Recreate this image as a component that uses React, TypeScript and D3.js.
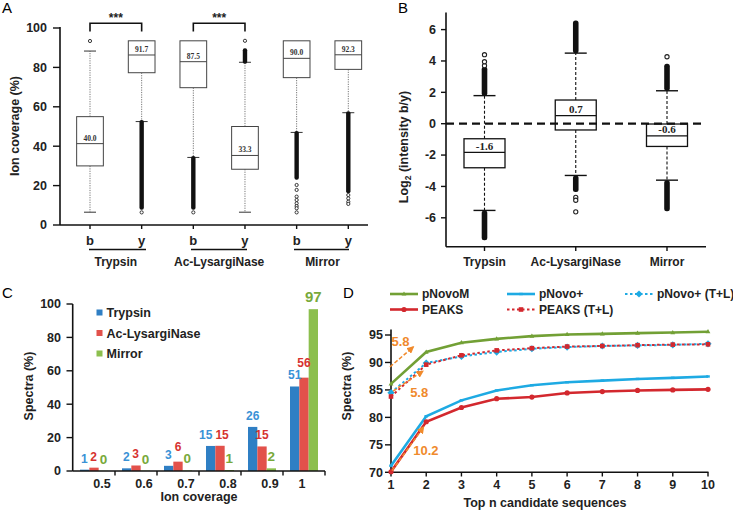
import React from 'react';
import * as d3 from 'd3';

// ---------- Panel A: ion coverage box plots ----------
const aIons = ['b', 'y', 'b', 'y', 'b', 'y'];
const aGroups = ['Trypsin', 'Ac-LysargiNase', 'Mirror'];
const aWhiskerLow = [6.5, 52.5, 34.3, 6.5, 47, 57];
const aQ1 = [30, 77.3, 69.7, 28.3, 74.8, 79];
const aMedian = [41.3, 86.3, 82.9, 35.3, 84.6, 86.4];
const aQ3 = [55, 93.5, 93.5, 50, 93.5, 93.5];
const aWhiskerHigh = [88.3, 93.5, 93.5, 82.6, 93.5, 93.5];
const aLabels = ['40.0', '91.7', '87.5', '33.3', '90.0', '92.3'];
const aBandLo = [NaN, 8.5, 8.5, 82.6, 23.7, 16.9];
const aBandHi = [NaN, 52.5, 34.3, 89, 47, 57];
const aOutliers = [[93.4], [6.4], [6.4], [93.5], [20.3, 17.8, 14.4, 12.7, 11, 9.6, 8.5, 6.4], [15.2, 13.5, 11.8, 10.7]];
const aTicks = [0, 20, 40, 60, 80, 100];

// ---------- Panel B: log2 intensity ratio ----------
const bGroups = ['Trypsin', 'Ac-LysargiNase', 'Mirror'];
const bWhiskerLow = [-5.53, -3.3, -3.6];
const bQ1 = [-2.81, -0.4, -1.45];
const bMedian = [-1.83, 0.51, -0.77];
const bQ3 = [-0.96, 1.51, -0.02];
const bWhiskerHigh = [1.79, 4.5, 2.1];
const bLabels = ['-1.6', '0.7', '-0.6'];
const bUpperBandLo = [1.79, 4.5, 2.1];
const bUpperBandHi = [3.5, 6.45, 3.7];
const bLowerBandHi = [-5.53, -3.3, -3.6];
const bLowerBandLo = [-7.3, -4.22, -5.45];
const bOutliers = [[3.7, 3.95, 4.4], [-4.7, -4.88, -5.62], [4.27]];
const bTicks = [-6, -4, -2, 0, 2, 4, 6];

// ---------- Panel C: spectra by ion coverage ----------
const cCoverage = ['0.5', '0.6', '0.7', '0.8', '0.9', '1'];
const cSeries = ['Trypsin', 'Ac-LysargiNase', 'Mirror'];
const cTrypsin = [0.8, 1.6, 3.1, 15.0, 26.4, 50.6];
const cLysargiNase = [2.0, 3.3, 5.6, 15.1, 14.7, 55.9];
const cMirror = [0.1, 0.2, 0.3, 0.6, 1.6, 96.9];
const cTicks = [0, 20, 40, 60, 80, 100];

// ---------- Panel D: top-n candidate sequences ----------
const dTopN = [1, 2, 3, 4, 5, 6, 7, 8, 9, 10];
const dPNovoM = [86.1, 91.9, 93.6, 94.3, 94.8, 95.1, 95.2, 95.35, 95.45, 95.6];
const dPNovoPlusTL = [84.5, 89.9, 91.1, 91.9, 92.5, 92.8, 93.0, 93.1, 93.2, 93.4];
const dPeaksTL = [83.8, 89.6, 91.3, 92.2, 92.6, 92.9, 93.0, 93.15, 93.25, 93.3];
const dPNovoPlus = [71.2, 80.2, 83.1, 84.9, 85.85, 86.4, 86.7, 87.0, 87.2, 87.45];
const dPeaks = [70.1, 79.2, 81.8, 83.4, 83.7, 84.45, 84.7, 84.9, 85.0, 85.1];
const dTicks = [70, 75, 80, 85, 90, 95];
const dArrowLabels = ['5.8', '5.8', '10.2'];
const dArrowFrom = [[0.97, 89.2], [1.06, 84.8], [1.03, 70.3]];
const dArrowTo = [[1.63, 92.8], [1.9, 88.4], [1.92, 78.2]];
const dArrowText = [[1.27, 93.9], [1.8, 84.5], [1.99, 73.9]];

const SANS = '"Liberation Sans", Arial, sans-serif';
const SERIF = '"Liberation Serif", "Times New Roman", serif';

const BLUE = '#2f7fc4';
const RED = '#e2514b';
const GREEN = '#8cbf4e';
const BLUE_T = '#3a92d6';
const RED_T = '#d63330';
const GREEN_T = '#78a93a';
const L_GREEN = '#72a035';
const L_CYAN = '#1eaae3';
const L_RED = '#d3282e';
const ORANGE = '#f08a2c';

function PanelA() {
  const y = d3.scaleLinear().domain([0, 100]).range([225, 28]);
  const x = d3.scalePoint<number>().domain(d3.range(aIons.length)).range([90, 348.3]);
  const bw = 26.7;
  const groupLines = [[89, 146], [191, 247], [294, 349]];
  return (
    <g>
      <text x={2} y={13} fontFamily={SANS} fontSize={15}>A</text>
      <line x1={60} x2={60} y1={27} y2={225} stroke="#111" strokeWidth={1.6} />
      <line x1={60} x2={368} y1={225} y2={225} stroke="#111" strokeWidth={1.6} />
      {aTicks.map((t) => (
        <g key={t}>
          <line x1={53} x2={60} y1={y(t)} y2={y(t)} stroke="#111" strokeWidth={1.4} />
          <text x={47} y={y(t)} dy="0.35em" textAnchor="end" fontFamily={SANS} fontWeight="bold" fontSize={12.5} fill="#222">{t}</text>
        </g>
      ))}
      <text transform={`translate(19,${126}) rotate(-90)`} textAnchor="middle" fontFamily={SANS} fontWeight="bold" fontSize={12.5} fill="#222">Ion coverage (%)</text>
      {aIons.map((ion, i) => (
        <g key={i}>
          <line x1={x(i)!} x2={x(i)!} y1={225} y2={229} stroke="#111" strokeWidth={1.4} />
          <text x={x(i)!} y={245} textAnchor="middle" fontFamily={SANS} fontWeight="bold" fontSize={13} fill="#222">{ion}</text>
        </g>
      ))}
      {aGroups.map((g, i) => (
        <g key={g}>
          <line x1={groupLines[i][0]} x2={groupLines[i][1]} y1={249.5} y2={249.5} stroke="#111" strokeWidth={1.3} />
          <text x={(x(2 * i)! + x(2 * i + 1)!) / 2} y={266} textAnchor="middle" fontFamily={SANS} fontWeight="bold" fontSize={12} fill="#222">{g}</text>
        </g>
      ))}
      {[0, 2].map((i) => (
        <g key={i}>
          <path d={`M${x(i)},${31.5}V${23.3}H${x(i + 1)}V${31.5}`} fill="none" stroke="#111" strokeWidth={1.6} />
          <text x={(x(i)! + x(i + 1)!) / 2} y={22} textAnchor="middle" fontFamily={SANS} fontWeight="bold" fontSize={12} fill="#222">***</text>
        </g>
      ))}
      {aIons.map((_, i) => {
        const cx = x(i)!;
        return (
          <g key={i}>
            {aWhiskerHigh[i] > aQ3[i] && (
              <>
                <line x1={cx} x2={cx} y1={y(aQ3[i])} y2={y(aWhiskerHigh[i])} stroke="#777" strokeWidth={1} strokeDasharray="1.2,1.2" />
                <line x1={cx - 6} x2={cx + 6} y1={y(aWhiskerHigh[i])} y2={y(aWhiskerHigh[i])} stroke="#333" strokeWidth={1} />
              </>
            )}
            <line x1={cx} x2={cx} y1={y(aQ1[i])} y2={y(aWhiskerLow[i])} stroke="#777" strokeWidth={1} strokeDasharray="1.2,1.2" />
            <line x1={cx - 6} x2={cx + 6} y1={y(aWhiskerLow[i])} y2={y(aWhiskerLow[i])} stroke="#333" strokeWidth={1} />
            <rect x={cx - bw / 2} y={y(aQ3[i])} width={bw} height={y(aQ1[i]) - y(aQ3[i])} fill="#fff" stroke="#444" strokeWidth={1} />
            <line x1={cx - bw / 2} x2={cx + bw / 2} y1={y(aMedian[i])} y2={y(aMedian[i])} stroke="#444" strokeWidth={1} />
            <text x={cx} y={y(aMedian[i]) - 3} textAnchor="middle" fontFamily={SERIF} fontWeight="bold" fontSize={7.5} fill="#333">{aLabels[i]}</text>
            {!isNaN(aBandLo[i]) && (
              <rect x={cx - 2.2} y={y(aBandHi[i]) - 1.5} width={4.4} height={y(aBandLo[i]) - y(aBandHi[i]) + 3} rx={2} fill="#111" />
            )}
            {aOutliers[i].map((v, j) => (
              <circle key={j} cx={cx} cy={y(v)} r={1.6} fill="#fff" stroke="#222" strokeWidth={0.9} />
            ))}
          </g>
        );
      })}
    </g>
  );
}

function PanelB() {
  const y = d3.scaleLinear().domain([0, 6]).range([123.7, 29.6]);
  const x = d3.scalePoint<number>().domain(d3.range(bGroups.length)).range([484.5, 667]);
  const bw = 41;
  return (
    <g>
      <text x={398} y={13} fontFamily={SANS} fontSize={15}>B</text>
      <line x1={446} x2={446} y1={12.5} y2={246.7} stroke="#111" strokeWidth={1.6} />
      <line x1={446} x2={706} y1={246.7} y2={246.7} stroke="#111" strokeWidth={1.6} />
      {bTicks.map((t) => (
        <g key={t}>
          <line x1={441} x2={446} y1={y(t)} y2={y(t)} stroke="#111" strokeWidth={1.4} />
          <text x={436} y={y(t)} dy="0.35em" textAnchor="end" fontFamily={SANS} fontWeight="bold" fontSize={12.5} fill="#222">{t}</text>
        </g>
      ))}
      <text transform={`translate(408,${147}) rotate(-90)`} textAnchor="middle" fontFamily={SANS} fontWeight="bold" fontSize={12.5} fill="#222">
        Log<tspan fontSize={8.5} dy={3}>2</tspan><tspan dy={-3}> (intensity b/y)</tspan>
      </text>
      {bGroups.map((g, i) => (
        <g key={g}>
          <line x1={x(i)!} x2={x(i)!} y1={246.7} y2={251} stroke="#111" strokeWidth={1.4} />
          <text x={x(i)!} y={266} textAnchor="middle" fontFamily={SANS} fontWeight="bold" fontSize={12} fill="#222">{g}</text>
        </g>
      ))}
      {bGroups.map((_, i) => {
        const cx = x(i)!;
        return (
          <g key={i}>
            <line x1={cx} x2={cx} y1={y(bQ3[i])} y2={y(bWhiskerHigh[i])} stroke="#111" strokeWidth={1.1} strokeDasharray="3,2" />
            <line x1={cx} x2={cx} y1={y(bQ1[i])} y2={y(bWhiskerLow[i])} stroke="#111" strokeWidth={1.1} strokeDasharray="3,2" />
            <line x1={cx - 11} x2={cx + 11} y1={y(bWhiskerHigh[i])} y2={y(bWhiskerHigh[i])} stroke="#111" strokeWidth={1.4} />
            <line x1={cx - 11} x2={cx + 11} y1={y(bWhiskerLow[i])} y2={y(bWhiskerLow[i])} stroke="#111" strokeWidth={1.4} />
            <rect x={cx - 2.8} y={y(bUpperBandHi[i]) - 2} width={5.6} height={y(bUpperBandLo[i]) - y(bUpperBandHi[i]) + 2} rx={2.5} fill="#111" />
            <rect x={cx - 2.8} y={y(bLowerBandHi[i])} width={5.6} height={y(bLowerBandLo[i]) - y(bLowerBandHi[i]) + 2} rx={2.5} fill="#111" />
            {bOutliers[i].map((v, j) => (
              <circle key={j} cx={cx} cy={y(v)} r={2.1} fill="#fff" stroke="#222" strokeWidth={1.1} />
            ))}
            <rect x={cx - bw / 2} y={y(bQ3[i])} width={bw} height={y(bQ1[i]) - y(bQ3[i])} fill="#fff" stroke="#111" strokeWidth={1.3} />
            <line x1={cx - bw / 2} x2={cx + bw / 2} y1={y(bMedian[i])} y2={y(bMedian[i])} stroke="#111" strokeWidth={1.3} />
            <text x={cx} y={y(bMedian[i]) - 2.5} textAnchor="middle" fontFamily={SERIF} fontWeight="bold" fontSize={11} fill="#222">{bLabels[i]}</text>
          </g>
        );
      })}
      <line x1={446} x2={702} y1={y(0)} y2={y(0)} stroke="#111" strokeWidth={2.2} strokeDasharray="8,5" />
    </g>
  );
}

function PanelC() {
  const y = d3.scaleLinear().domain([0, 100]).range([471, 304]);
  const x0 = d3.scaleBand().domain(cCoverage).range([73, 325]);
  const x1 = d3.scaleBand().domain(cSeries).range([7, x0.bandwidth() - 7]);
  const series = [cTrypsin, cLysargiNase, cMirror];
  const fills = [BLUE, RED, GREEN];
  const tcols = [BLUE_T, RED_T, GREEN_T];
  const tsize = [12, 12, 13.5];

  // value labels with simple collision avoidance
  const labels = cCoverage.map((c, gi) => {
    const items = series.map((s, si) => {
      const txt = String(Math.round(s[gi]));
      const fs = si === 2 && gi === 5 ? 15 : tsize[si];
      return {
        txt, fs, si,
        x: x0(c)! + x1(cSeries[si])! + x1.bandwidth() / 2,
        y: y(s[gi]) - 7,
        w: txt.length * 0.556 * fs,
      };
    });
    for (let k = 0; k < items.length - 1; k++) {
      const a = items[k], b = items[k + 1];
      const need = (a.w + b.w) / 2 + 3 - (b.x - a.x);
      if (need <= 0) continue;
      const dy = Math.abs(a.y - b.y);
      if (dy < 6) {
        a.x -= need * 0.7; b.x += need * 0.3;
      } else if (dy < 12) {
        const hi = a.y < b.y ? a : b;
        const lo = a.y < b.y ? b : a;
        hi.y = lo.y - 12.5;
      }
    }
    return items;
  });

  return (
    <g>
      <text x={2} y={298} fontFamily={SANS} fontSize={15}>C</text>
      {cCoverage.map((c, gi) => (
        <g key={c} transform={`translate(${x0(c)},0)`}>
          {series.map((s, si) => (
            <rect key={si} x={x1(cSeries[si])} y={y(s[gi])} width={x1.bandwidth()} height={471 - y(s[gi])} fill={fills[si]} />
          ))}
        </g>
      ))}
      {labels.flat().map((l, k) => (
        <text key={k} x={l.x} y={l.y} textAnchor="middle" fontFamily={SANS} fontWeight="bold" fontSize={l.fs} fill={tcols[l.si]}>{l.txt}</text>
      ))}
      <line x1={72.7} x2={72.7} y1={304} y2={471} stroke="#111" strokeWidth={1.6} />
      <line x1={72.7} x2={325} y1={471} y2={471} stroke="#111" strokeWidth={1.6} />
      {cTicks.map((t) => (
        <g key={t}>
          <line x1={66.5} x2={72.7} y1={y(t)} y2={y(t)} stroke="#111" strokeWidth={1.4} />
          <text x={61} y={y(t)} dy="0.35em" textAnchor="end" fontFamily={SANS} fontWeight="bold" fontSize={12.5} fill="#222">{t}</text>
        </g>
      ))}
      {cCoverage.map((c) => (
        <g key={c}>
          <line x1={x0(c)! + x0.bandwidth()} x2={x0(c)! + x0.bandwidth()} y1={471} y2={475.5} stroke="#111" strokeWidth={1.4} />
          <text x={x0(c)! + x0.bandwidth() / 2 + (c.length > 1 ? 8 : -2)} y={488} textAnchor="middle" fontFamily={SANS} fontWeight="bold" fontSize={12.5} fill="#222">{c}</text>
        </g>
      ))}
      <text x={199} y={501} textAnchor="middle" fontFamily={SANS} fontWeight="bold" fontSize={12.5} fill="#222">Ion coverage</text>
      <text transform={`translate(33,${386}) rotate(-90)`} textAnchor="middle" fontFamily={SANS} fontWeight="bold" fontSize={12.5} fill="#222">Spectra (%)</text>
      {cSeries.map((s, i) => (
        <g key={s} transform={`translate(96.5,${312.5 + i * 20.5})`}>
          <rect x={0} y={-3} width={6} height={6} fill={fills[i]} />
          <text x={10} y={0} dy="0.36em" fontFamily={SANS} fontWeight="bold" fontSize={12.5} fill="#222">{s}</text>
        </g>
      ))}
    </g>
  );
}

function marker(kind: string, cx: number, cy: number, color: string, key: any) {
  if (kind === 'circle') return <circle key={key} cx={cx} cy={cy} r={2.6} fill={color} />;
  if (kind === 'square') return <rect key={key} x={cx - 2.3} y={cy - 2.3} width={4.6} height={4.6} fill={color} />;
  if (kind === 'diamond') return <path key={key} d={`M${cx},${cy - 3.6}L${cx + 3.6},${cy}L${cx},${cy + 3.6}L${cx - 3.6},${cy}Z`} fill={color} />;
  if (kind === 'triangle') return <path key={key} d={`M${cx},${cy - 2.6}L${cx + 2.4},${cy + 1.6}L${cx - 2.4},${cy + 1.6}Z`} fill={color} />;
  return <rect key={key} x={cx - 1.8} y={cy - 1.2} width={3.6} height={2.4} fill={color} />;
}

function PanelD() {
  const x = d3.scaleLinear().domain([1, 10]).range([391, 708]);
  const y = d3.scaleLinear().domain([70, 95]).range([472.3, 335]);
  const line = d3.line<number>().x((_, i) => x(dTopN[i])).y((d) => y(d));
  const lines = [
    { name: 'pNovo+ (T+L)', data: dPNovoPlusTL, color: L_CYAN, dash: '2.5,2.5', w: 2, m: 'diamond' },
    { name: 'PEAKS (T+L)', data: dPeaksTL, color: L_RED, dash: '2.5,2.5', w: 2, m: 'square' },
    { name: 'pNovoM', data: dPNovoM, color: L_GREEN, dash: undefined, w: 2.6, m: 'triangle' },
    { name: 'pNovo+', data: dPNovoPlus, color: L_CYAN, dash: undefined, w: 2.6, m: 'dash' },
    { name: 'PEAKS', data: dPeaks, color: L_RED, dash: undefined, w: 2.6, m: 'circle' },
  ];
  const legend = [
    { name: 'pNovoM', lx: 390, ty: 294, idx: 2 },
    { name: 'pNovo+', lx: 507, ty: 294, idx: 3 },
    { name: 'pNovo+ (T+L)', lx: 625, ty: 294, idx: 0 },
    { name: 'PEAKS', lx: 390, ty: 309.5, idx: 4 },
    { name: 'PEAKS (T+L)', lx: 507, ty: 309.5, idx: 1 },
  ];
  return (
    <g>
      <defs>
        <marker id="arrowO" viewBox="0 0 10 10" refX={8} refY={5} markerWidth={5} markerHeight={5} orient="auto">
          <path d="M0,0L10,5L0,10Z" fill={ORANGE} />
        </marker>
      </defs>
      <text x={343} y={298} fontFamily={SANS} fontSize={15}>D</text>
      <line x1={391} x2={391} y1={329.5} y2={472.3} stroke="#111" strokeWidth={1.6} />
      <line x1={391} x2={708.5} y1={472.3} y2={472.3} stroke="#111" strokeWidth={1.6} />
      {dTicks.map((t) => (
        <g key={t}>
          <line x1={385} x2={391} y1={y(t)} y2={y(t)} stroke="#111" strokeWidth={1.4} />
          <text x={383} y={y(t)} dy="0.35em" textAnchor="end" fontFamily={SANS} fontWeight="bold" fontSize={12.5} fill="#222">{t}</text>
        </g>
      ))}
      {dTopN.map((t) => (
        <g key={t}>
          <line x1={x(t)} x2={x(t)} y1={472.3} y2={476.5} stroke="#111" strokeWidth={1.4} />
          <text x={x(t)} y={489} textAnchor="middle" fontFamily={SANS} fontWeight="bold" fontSize={12.5} fill="#222">{t}</text>
        </g>
      ))}
      <text x={545} y={507} textAnchor="middle" fontFamily={SANS} fontWeight="bold" fontSize={12.5} fill="#222">Top n candidate sequences</text>
      <text transform={`translate(351,${386}) rotate(-90)`} textAnchor="middle" fontFamily={SANS} fontWeight="bold" fontSize={12.5} fill="#222">Spectra (%)</text>
      {lines.map((l) => (
        <g key={l.name}>
          <path d={line(l.data)!} fill="none" stroke={l.color} strokeWidth={l.w} strokeDasharray={l.dash} />
          {l.data.map((v, i) => marker(l.m, x(dTopN[i]), y(v), l.color, i))}
        </g>
      ))}
      {dArrowLabels.map((lab, i) => (
        <g key={i}>
          <line x1={x(dArrowFrom[i][0])} y1={y(dArrowFrom[i][1])} x2={x(dArrowTo[i][0])} y2={y(dArrowTo[i][1])} stroke={ORANGE} strokeWidth={1.5} strokeDasharray="4,2" markerEnd="url(#arrowO)" />
          <text x={x(dArrowText[i][0])} y={y(dArrowText[i][1])} dy="0.35em" textAnchor="middle" fontFamily={SANS} fontWeight="bold" fontSize={13} fill={ORANGE}>{lab}</text>
        </g>
      ))}
      {legend.map((e) => {
        const l = lines[e.idx];
        return (
          <g key={e.name}>
            <line x1={e.lx} x2={e.lx + 28} y1={e.ty} y2={e.ty} stroke={l.color} strokeWidth={l.w} strokeDasharray={l.dash} />
            {marker(l.m, e.lx + 14, e.ty, l.color, 'm')}
            <text x={e.lx + 32} y={e.ty} dy="0.36em" fontFamily={SANS} fontWeight="bold" fontSize={12} fill="#222">{e.name}</text>
          </g>
        );
      })}
    </g>
  );
}

export default function App() {
  return (
    <svg width={733} height={511} style={{ position: 'absolute', left: 0, top: 0, background: '#fff' }}>
      <rect width={733} height={511} fill="#fff" />
      <PanelA />
      <PanelB />
      <PanelC />
      <PanelD />
    </svg>
  );
}
